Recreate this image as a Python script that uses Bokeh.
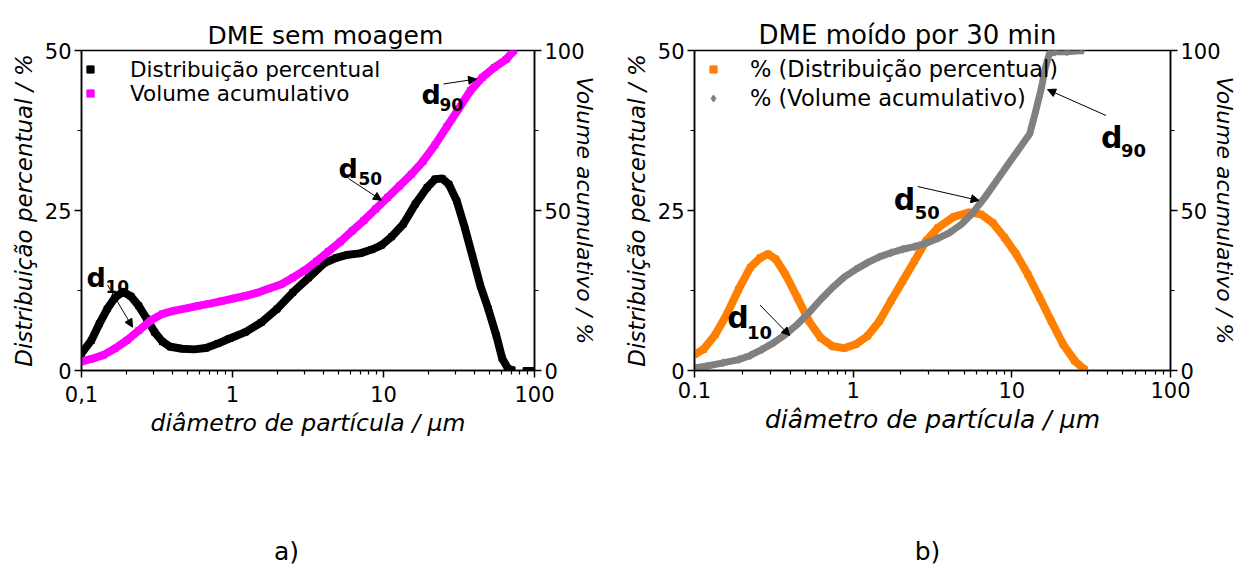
from bokeh.plotting import figure
from bokeh.models import (Range1d, LinearAxis, FixedTicker, Label, Arrow, NormalHead,
                          Legend, LegendItem)
from bokeh.core.properties import value
from bokeh.layouts import row, column
from bokeh.embed import file_html
from bokeh.resources import INLINE

FONT = "DejaVu Sans"

# ---------------- a) DME sem moagem ----------------
size_a = [0.100, 0.1162, 0.1312, 0.1479, 0.1668, 0.1882, 0.2123, 0.2394, 0.2701, 0.3047,
          0.3437, 0.3877, 0.4645, 0.5565, 0.6668, 0.7989, 0.957, 1.218, 1.549, 1.971,
          2.508, 3.192, 4.062, 4.866, 5.832, 6.985, 8.368, 9.727, 11.31, 13.55,
          16.23, 19.45, 21.94, 24.44, 27.09, 30.55, 34.45, 38.88, 43.85, 49.45,
          55.80, 61.07, 66.83, 71.01, 88.0, 96.0]
dist_a = [2.67, 4.7, 7.3, 9.6, 11.4, 12.3, 11.6, 10.1, 8.1, 6.0,
          4.5, 3.7, 3.4, 3.3, 3.5, 4.2, 5.0, 6.0, 7.5, 9.6,
          12.2, 14.5, 16.8, 17.6, 18.1, 18.3, 18.9, 19.6, 20.9, 22.9,
          26.0, 28.6, 29.9, 30.0, 29.1, 26.5, 22.4, 17.8, 13.2, 9.6,
          5.5, 1.9, 0.26, 0.1, 0.0, 0.0]
cum_size_a = [0.100, 0.1162, 0.1393, 0.1668, 0.1999, 0.2394, 0.2870, 0.3437, 0.4117, 0.4934,
              0.5908, 0.7083, 0.8484, 1.016, 1.218, 1.459, 1.748, 2.094, 2.508, 3.005,
              3.601, 4.314, 5.168, 6.193, 7.419, 8.887, 10.65, 12.76, 15.28, 18.31,
              21.94, 26.28, 31.48, 37.72, 45.19, 54.14, 64.85, 73.14]
cum_a = [2.8, 3.6, 4.8, 6.9, 9.4, 12.5, 15.6, 17.7, 18.7, 19.4,
         20.2, 20.9, 21.7, 22.5, 23.3, 24.3, 25.6, 26.9, 29.0, 31.3,
         34.1, 37.2, 40.2, 43.6, 46.9, 50.5, 54.1, 57.7, 61.3, 65.4,
         70.5, 76.2, 81.8, 87.5, 91.6, 94.7, 97.2, 100.0]

# ---------------- b) DME moído por 30 min ----------------
size_b = [0.1, 0.1139, 0.1351, 0.160, 0.1898, 0.225, 0.2593, 0.2904, 0.3253, 0.3749,
          0.4444, 0.5268, 0.6245, 0.7405, 0.8776, 1.040, 1.233, 1.462, 1.733, 2.055,
          2.436, 2.888, 3.424, 4.295, 5.389, 6.389, 7.574, 8.980, 10.64, 12.62,
          14.96, 17.74, 21.03, 24.93, 28.72]
dist_b = [2.5, 3.3, 5.6, 8.8, 12.7, 16.1, 17.6, 18.2, 17.4, 15.0,
          11.4, 7.7, 5.1, 3.8, 3.5, 4.1, 5.4, 7.7, 10.9, 14.0,
          17.1, 20.3, 22.3, 24.0, 24.7, 24.4, 23.1, 20.8, 18.2, 15.0,
          11.4, 7.7, 4.1, 1.5, 0.16]
cum_size_b = [0.1, 0.1206, 0.1513, 0.1898, 0.225, 0.2668, 0.3162, 0.3749, 0.4444, 0.5268,
              0.6245, 0.7405, 0.8776, 1.040, 1.233, 1.462, 1.733, 2.055, 2.436, 2.888,
              3.424, 4.059, 4.812, 5.705, 6.761, 8.017, 9.502, 11.27, 12.98, 14.13,
              15.39, 16.29, 17.24, 18.77, 22.25, 27.92]
cum_b = [0.8, 1.4, 2.4, 3.4, 4.7, 6.6, 8.7, 11.3, 14.4, 18.1,
         22.2, 25.9, 29.2, 31.6, 33.7, 35.5, 36.8, 37.9, 38.7, 39.8,
         41.3, 43.1, 45.7, 49.4, 54.1, 59.3, 64.5, 69.7, 74.0, 81.0,
         88.5, 94.8, 99.0, 99.6, 99.6, 100.0]

# ---------------- ticks ----------------
x_ticks = [0.1, 1, 10, 100]
x_labels_a = ["0,1", "1", "10", "100"]
x_labels_b = ["0.1", "1", "10", "100"]
x_minor = [m * d for d in (0.1, 1, 10) for m in range(2, 10)]
dist_ticks = [0, 25, 50]
dist_minor = [12.5, 37.5]
vol_ticks = [0, 50, 100]
vol_minor = [25, 75]


def style_axis(ax, tick_fs, label_fs, label_standoff, tick_standoff):
    ax.axis_line_color = "black"
    ax.axis_line_width = 1.5
    ax.major_tick_line_color = "black"
    ax.major_tick_line_width = 1.5
    ax.minor_tick_line_color = "black"
    ax.minor_tick_line_width = 1.2
    ax.major_tick_in = 0
    ax.major_tick_out = 7
    ax.minor_tick_in = 0
    ax.minor_tick_out = 4
    ax.major_label_text_font = FONT
    ax.major_label_text_font_size = tick_fs
    ax.major_label_text_color = "black"
    ax.major_label_standoff = tick_standoff
    ax.axis_label_text_font = FONT
    ax.axis_label_text_font_size = label_fs
    ax.axis_label_text_font_style = "italic"
    ax.axis_label_text_color = "black"
    ax.axis_label_standoff = label_standoff


def make_panel(width, borders, title, title_fs, title_offset, x_labels, xlabel_fs,
               x_tick_standoff, right_standoff):
    left, right, top, bottom = borders
    p = figure(width=width, height=520, x_axis_type="log",
               x_range=Range1d(0.1, 100), y_range=Range1d(0, 50),
               output_backend="svg", toolbar_location=None,
               min_border_left=left, min_border_right=right,
               min_border_top=top, min_border_bottom=bottom)
    p.extra_y_ranges = {"vol": Range1d(0, 100)}
    p.title.text = title
    p.title.align = "left"
    p.title.offset = title_offset
    p.title.text_font = FONT
    p.title.text_font_size = title_fs
    p.title.text_font_style = "normal"
    p.title.text_color = "black"
    p.title.standoff = 2
    p.xgrid.visible = False
    p.ygrid.visible = False
    p.outline_line_color = "black"
    p.outline_line_width = 1.5
    p.background_fill_color = "white"
    p.border_fill_color = "white"

    p.xaxis.ticker = FixedTicker(ticks=x_ticks, minor_ticks=x_minor)
    p.xaxis.major_label_overrides = dict(zip(x_ticks, x_labels))
    p.xaxis.axis_label = "diâmetro de partícula / μm"
    style_axis(p.xaxis[0], "21px", xlabel_fs, 4, x_tick_standoff)

    p.yaxis.ticker = FixedTicker(ticks=dist_ticks, minor_ticks=dist_minor)
    p.yaxis.axis_label = "Distribuição percentual / %"
    style_axis(p.yaxis[0], "21px", "23px", 5, 3)

    vol_axis = LinearAxis(y_range_name="vol", axis_label="Volume acumulativo / %",
                          ticker=FixedTicker(ticks=vol_ticks, minor_ticks=vol_minor))
    style_axis(vol_axis, "21px", "22px", right_standoff, 3)
    p.add_layout(vol_axis, "right")
    return p


def tag_strip(width, text, x):
    # thin strip under a panel carrying its "a)" / "b)" tag
    t = figure(width=width, height=46, x_range=Range1d(0, width), y_range=Range1d(0, 46),
               output_backend="svg", toolbar_location=None,
               x_axis_location=None, y_axis_location=None, min_border=0)
    t.grid.visible = False
    t.outline_line_color = None
    t.background_fill_color = "white"
    t.border_fill_color = "white"
    t.add_layout(Label(x=x, y=15, text=text, text_align="center",
                       text_baseline="alphabetic", text_font=FONT,
                       text_font_size="25px", text_color="black"))
    return t


def d_label(p, x, y, sub_x, sub_y, sub, fs, sub_fs):
    p.add_layout(Label(x=x, y=y, text="d", text_font=FONT, text_font_size=fs,
                       text_font_style="bold", text_baseline="alphabetic",
                       text_color="black"))
    p.add_layout(Label(x=sub_x, y=sub_y, text=sub, text_font=FONT, text_font_size=sub_fs,
                       text_font_style="bold", text_baseline="alphabetic",
                       text_color="black"))


def pointer(p, x0, y0, x1, y1):
    p.add_layout(Arrow(end=NormalHead(size=8, fill_color="black", line_color="black",
                                      line_width=1),
                       x_start=x0, y_start=y0, x_end=x1, y_end=y1,
                       line_color="black", line_width=1))


def legend_entry(p, text, renderer, loc, standoff, fs):
    leg = Legend(items=[LegendItem(label=value(text), renderers=[renderer])],
                 location=loc, orientation="vertical", glyph_width=18, glyph_height=30,
                 label_standoff=standoff, spacing=0, padding=0, margin=0,
                 border_line_color=None, background_fill_alpha=0,
                 label_text_font=FONT, label_text_font_size=fs, label_text_color="black")
    p.add_layout(leg)


# ---------------- panel a ----------------
pa = make_panel(620, (81, 86, 47, 148), "DME sem moagem", "25px", 126,
                x_labels_a, "23.5px", 8, -16)
pa.line(size_a[:-2], dist_a[:-2], line_color="black", line_width=8, line_join="round")
r_dist_a = pa.scatter(size_a, dist_a, marker="square", size=6, color="black")
pa.line(cum_size_a, cum_a, y_range_name="vol", line_color="#FF00FF", line_width=8,
        line_join="round")
r_cum_a = pa.scatter(cum_size_a, cum_a, y_range_name="vol", marker="square", size=6,
                     color="#FF00FF")
legend_entry(pa, "Distribuição percentual", r_dist_a, (0, 286), 31, "21.5px")
legend_entry(pa, "Volume acumulativo", r_cum_a, (0, 262), 31, "21.5px")

d_label(pa, 0.1079, 14.6, 0.1442, 13.1, "10", "27px", "17px")
d_label(pa, 5.035, 31.5, 6.83, 30.0, "50", "27px", "17px")
d_label(pa, 17.86, 43.1, 23.49, 41.5, "90", "27px", "17px")
pointer(pa, 0.1487, 13.38, 0.2177, 6.77)
pointer(pa, 5.866, 30.0, 9.70, 26.6)
pointer(pa, 24.97, 44.77, 41.29, 45.54)

# ---------------- panel b ----------------
pb = make_panel(619, (73, 66, 50, 150), "DME moído por 30 min", "26px", 64,
                x_labels_b, "25px", 4, -12)
pb.line(size_b, dist_b, line_color="#FF8000", line_width=8, line_join="round")
r_dist_b = pb.scatter(size_b, dist_b, marker="square", size=6, color="#FF8000")
pb.line(cum_size_b, cum_b, y_range_name="vol", line_color="#808080", line_width=7,
        line_join="round")
r_cum_b = pb.scatter(cum_size_b, cum_b, y_range_name="vol", marker="diamond", size=8,
                     color="#808080")
legend_entry(pb, "% (Distribuição percentual)", r_dist_b, (10, 286), 28, "22.5px")
legend_entry(pb, "% (Volume acumulativo)", r_cum_b, (10, 257), 28, "22.5px")

d_label(pb, 0.1608, 8.28, 0.2145, 5.94, "10", "30px", "18px")
d_label(pb, 1.804, 26.7, 2.44, 24.7, "50", "30px", "18px")
d_label(pb, 36.52, 36.4, 48.7, 34.4, "90", "30px", "18px")
pointer(pb, 0.2585, 10.23, 0.3981, 5.47)
pointer(pb, 2.549, 28.75, 6.219, 26.56)
pointer(pb, 39.25, 39.84, 16.79, 43.9)

layout = column(row(pa, pb), row(tag_strip(620, "a)", 286), tag_strip(619, "b)", 307)))
open("out.html", "w").write(file_html(layout, INLINE))
